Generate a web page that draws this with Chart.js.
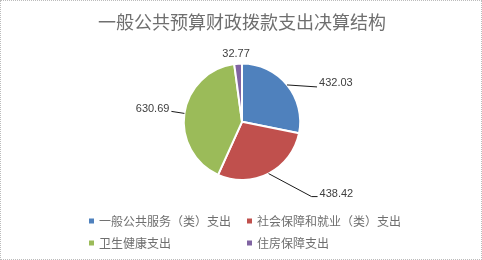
<!DOCTYPE html>
<html>
<head>
<meta charset="utf-8">
<script src="https://cdn.jsdelivr.net/npm/chart.js@4"></script>
<style>
  body { margin: 0; background: #fff; }
  #wrap { width: 482px; height: 260px; box-sizing: border-box; border: 1px dotted #bcbcbc; position: relative; }
</style>
</head>
<body>
<div id="wrap"><canvas id="pieChart"></canvas></div>
<script>
// dados
const categories = ['一般公共服务（类）支出', '社会保障和就业（类）支出', '卫生健康支出', '住房保障支出'];
const values = [432.03, 438.42, 630.69, 32.77];
const valueLabels = ['432.03', '438.42', '630.69', '32.77'];
const sliceColors = ['#4F81BD', '#C0504D', '#9BBB59', '#8064A2'];

// rótulos com linhas de chamada, deslocados a partir da borda da fatia
const leaderLayout = [
  { line: [[30, 2]], dx: 2, dy: -4, align: 'left' },
  { line: [[43, 23], [49, 23]], dx: 2, dy: -3, align: 'left' },
  { line: [[-13, -2]], dx: -2, dy: -2, align: 'right' },
  { line: [], dx: -2, dy: -10, align: 'center' }
];

const pieLabels = {
  id: 'pieLabels',
  afterDatasetsDraw(chart) {
    const ctx = chart.ctx;
    const arcs = chart.getDatasetMeta(0).data;
    ctx.save();
    ctx.font = "11px 'Liberation Sans', sans-serif";
    ctx.fillStyle = '#404040';
    ctx.strokeStyle = '#1a1a1a';
    ctx.lineWidth = 1;
    ctx.textBaseline = 'middle';
    arcs.forEach((arc, i) => {
      const mid = (arc.startAngle + arc.endAngle) / 2;
      const ex = arc.x + arc.outerRadius * Math.cos(mid);
      const ey = arc.y + arc.outerRadius * Math.sin(mid);
      const l = leaderLayout[i];
      let end = [ex, ey];
      if (l.line.length) {
        ctx.beginPath();
        ctx.moveTo(ex, ey);
        l.line.forEach(p => { end = [ex + p[0], ey + p[1]]; ctx.lineTo(end[0], end[1]); });
        ctx.stroke();
      }
      ctx.textAlign = l.align;
      ctx.fillText(valueLabels[i], end[0] + l.dx, end[1] + l.dy);
    });
    ctx.restore();
  }
};

// legenda em grade (duas colunas)
const gridLegend = {
  id: 'gridLegend',
  afterDraw(chart) {
    const ctx = chart.ctx;
    const cols = [88, 246];
    const rows = [220, 242];
    ctx.save();
    ctx.font = "12px 'Noto Sans CJK SC', sans-serif";
    ctx.textBaseline = 'middle';
    ctx.textAlign = 'left';
    categories.forEach((name, i) => {
      const x = cols[i % 2];
      const y = rows[Math.floor(i / 2)];
      ctx.fillStyle = sliceColors[i];
      ctx.fillRect(x, y - 2.5, 5, 5);
      ctx.fillStyle = '#6f6f6f';
      ctx.fillText(name, x + 10, y);
    });
    ctx.restore();
  }
};

new Chart(document.getElementById('pieChart'), {
  type: 'pie',
  data: {
    labels: categories,
    datasets: [{
      data: values,
      backgroundColor: sliceColors,
      borderColor: '#ffffff',
      borderWidth: 2
    }]
  },
  options: {
    responsive: true,
    maintainAspectRatio: false,
    animation: false,
    layout: { padding: { top: 0, bottom: 78, left: 2, right: 0 } },
    plugins: {
      legend: { display: false },
      tooltip: { enabled: false },
      title: {
        display: true,
        text: '一般公共预算财政拨款支出决算结构',
        color: '#6f6f6f',
        font: { family: "'Noto Sans CJK SC', sans-serif", size: 18, weight: 'normal' },
        padding: { top: 10, bottom: 30 }
      }
    }
  },
  plugins: [pieLabels, gridLegend]
});
</script>
</body>
</html>
